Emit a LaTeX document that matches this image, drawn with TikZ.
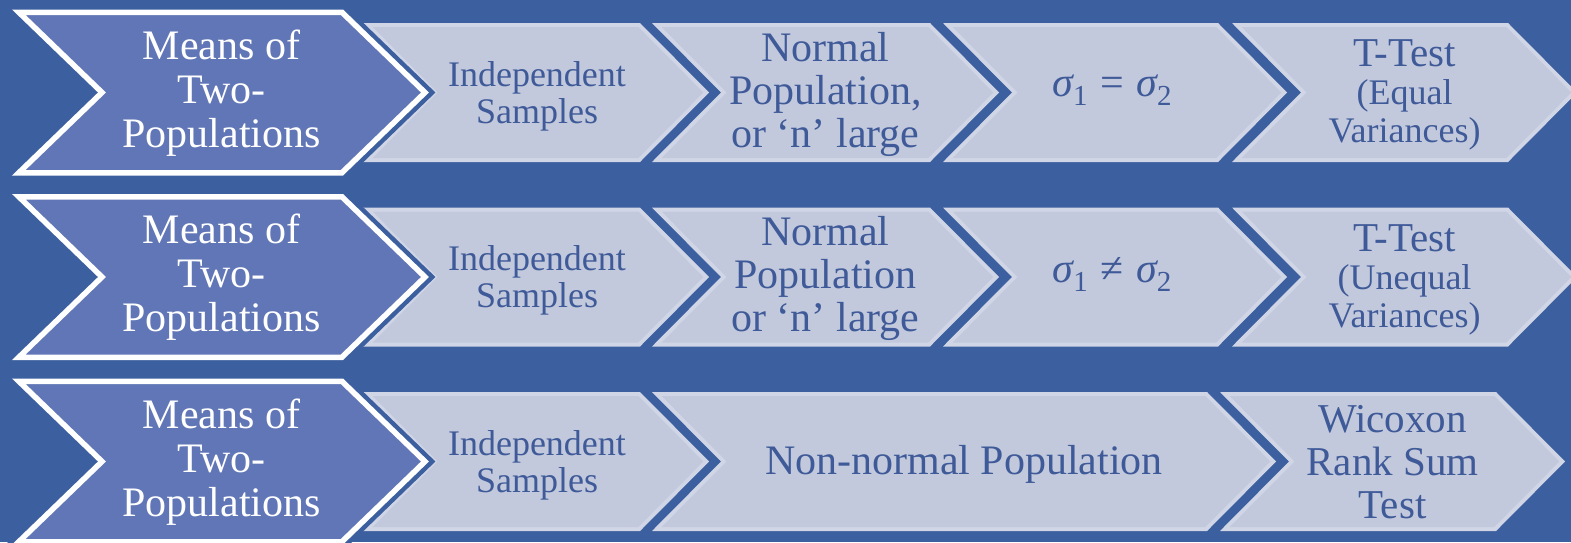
\documentclass[tikz,border=0pt]{standalone}
\usepackage{fontspec}
\setmainfont{Liberation Serif}
\definecolor{bgc}{HTML}{3C5F9F}
\definecolor{darkc}{HTML}{6076B6}
\definecolor{lfillc}{HTML}{C3C9DD}
\definecolor{lbordc}{HTML}{D1D6E7}
\definecolor{txtc}{HTML}{3F5A98}
\tikzset{
  lbord/.style={fill=lbordc},
  lfill/.style={fill=lfillc},
  dhalo/.style={draw=bgc, line width=14.5pt, line join=miter},
  dchevron/.style={fill=darkc, draw=white, line width=5.5pt, line join=miter},
  dtext/.style={text=white, align=center, inner sep=0pt, font=\fontsize{42}{44}\selectfont},
  ltext/.style={text=txtc, align=center, inner sep=0pt},
  bigtext/.style={ltext, font=\fontsize{42}{43}\selectfont},
  smalltext/.style={ltext, font=\fontsize{36}{37}\selectfont},
  mathtext/.style={ltext, font=\fontsize{42}{42}\selectfont},
  testtext/.style={ltext, font=\fontsize{36}{38}\selectfont},
}
\newcommand\sig[1]{{\itshape σ}\raisebox{-0.22em}{\fontsize{29}{29}\selectfont #1}}
\newcommand\bigline[1]{{\fontsize{41}{41}\selectfont #1}}
% light chevron: #1 = left x, #2 = top-right x, #3 = centre y
\newcommand\lchev[3]{%
  \fill[lbord] (#1,#3-69.5) -- (#2,#3-69.5) -- (#2+69,#3) -- (#2,#3+69.5)
     -- (#1,#3+69.5) -- (#1+69,#3) -- cycle;
  \fill[lfill] (#1+9.6,#3-65.5) -- (#2-1.7,#3-65.5) -- (#2+63.4,#3) -- (#2-1.7,#3+65.5)
     -- (#1+9.6,#3+65.5) -- (#1+74.6,#3) -- cycle;
}
% dark chevron: #1 = centre y
\newcommand\dchev[1]{%
  \draw[dhalo] (18.8,#1-80.25) -- (341.9,#1-80.25) -- (425,#1) -- (341.9,#1+80.25)
     -- (18.8,#1+80.25) -- (102,#1) -- cycle;
  \draw[dchevron] (18.8,#1-80.25) -- (341.9,#1-80.25) -- (425,#1) -- (341.9,#1+80.25)
     -- (18.8,#1+80.25) -- (102,#1) -- cycle;
}
\begin{document}
\begin{tikzpicture}[x=1pt,y=-1pt]
\useasboundingbox (0,0) rectangle (1571,542);
\clip (0,0) rectangle (1571,542);
\fill[bgc] (0,0) rectangle (1571,542);

% row 1
\lchev{363}{640}{92.5}
\lchev{652}{930}{92.5}
\lchev{943}{1218}{92.5}
\lchev{1232}{1508}{92.5}
\dchev{92.5}
% row 2
\lchev{363}{640}{277}
\lchev{652}{930}{277}
\lchev{943}{1218}{277}
\lchev{1232}{1508}{277}
\dchev{277}
% row 3
\lchev{363}{640}{461.5}
\lchev{652}{1207}{461.5}
\lchev{1220}{1496}{461.5}
\dchev{461.5}

% texts row 1
\node[dtext] (m1) at (221.5,93) {Means of\\Two-\\Populations};
\node[smalltext] (i1) at (537,96) {Independent\\Samples};
\node[bigtext] (n1) at (825.5,94) {Normal\\Population,\\or ‘n’ large};
\node[mathtext] (s1) at (1112,90) {\sig{1}\hspace{0.3em}=\hspace{0.3em}\sig{2}};
\node[testtext] (t1) at (1404.5,95) {\bigline{T-Test}\\(Equal\\Variances)};

% texts row 2
\node[dtext] (m2) at (221.5,277.5) {Means of\\Two-\\Populations};
\node[smalltext] (i2) at (537,280.5) {Independent\\Samples};
\node[bigtext] (n2) at (825.5,278.5) {Normal\\Population\\or ‘n’ large};
\node[mathtext] (s2) at (1112,274.5) {\sig{1}\hspace{0.3em}≠\hspace{0.3em}\sig{2}};
\node[testtext] (t2) at (1404.5,279.5) {\bigline{T-Test}\\(Unequal\\Variances)};

% texts row 3
\node[dtext] (m3) at (221.5,462) {Means of\\Two-\\Populations};
\node[smalltext] (i3) at (537,465) {Independent\\Samples};
\node[bigtext] (n3) at (964,464.5) {Non-normal Population};
\node[ltext, font=\fontsize{41}{43}\selectfont] (w3) at (1392.5,462) {Wicoxon\\Rank Sum\\Test};
\end{tikzpicture}
\end{document}
